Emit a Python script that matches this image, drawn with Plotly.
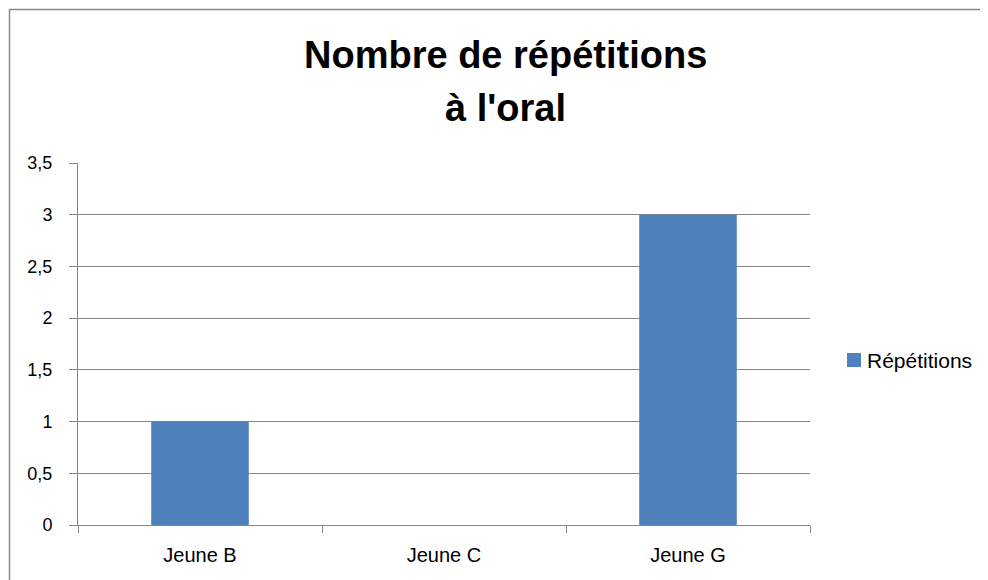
import plotly.graph_objects as go

categories = ["Jeune B", "Jeune C", "Jeune G"]
values = [1, 0, 3]
series_name = "Répétitions"
title_lines = ["Nombre de répétitions", "à l'oral"]
y_ticks = [0, 0.5, 1, 1.5, 2, 2.5, 3, 3.5]
y_tick_text = ["0", "0,5", "1", "1,5", "2", "2,5", "3", "3,5"]

# page body has an 8px default margin; compensate
O = 8
W, H = 988 - O, 580 - O
L, R, T, B = 78 - O, 178, 163 - O, 55
pw, ph = W - L - R, H - T - B

def px_x(p):
    return (p - O - L) / pw

def px_y(p):
    return (H - B - (p - O)) / ph

grey = "#868686"
blue = "#4F81BD"
font = "Liberation Sans"

fig = go.Figure()
fig.add_trace(go.Bar(x=categories, y=values, name=series_name,
                     marker=dict(color=blue, line=dict(width=0))))

fig.update_layout(
    width=W, height=H,
    margin=dict(l=L, r=R, t=T, b=B),
    paper_bgcolor="white", plot_bgcolor="white",
    bargap=0.6,
    showlegend=False,
    font=dict(family=font, color="black"),
    xaxis=dict(showline=True, linecolor=grey, linewidth=1,
               ticks="outside", tickson="boundaries", ticklen=7, tickcolor=grey,
               tickfont=dict(family=font, size=20, color="black"),
               showgrid=False, zeroline=False, ticklabelstandoff=12),
    yaxis=dict(range=[0, 3.5], tickvals=y_ticks, ticktext=y_tick_text,
               showline=True, linecolor=grey, linewidth=1,
               ticks="outside", ticklen=8, tickcolor=grey,
               tickfont=dict(family=font, size=18, color="black"),
               showgrid=True, gridcolor=grey, gridwidth=1,
               zeroline=False, ticklabelstandoff=13),
    shapes=[
        dict(type="rect", xref="paper", yref="paper",
             x0=px_x(9.5), x1=px_x(1000), y0=px_y(600), y1=px_y(9.5),
             line=dict(color="#8A8A8A", width=1.5), layer="below"),
        dict(type="rect", xref="paper", yref="paper",
             x0=px_x(847), x1=px_x(861), y0=px_y(367), y1=px_y(353),
             fillcolor=blue, line=dict(width=0)),
    ],
    annotations=[
        dict(text="<b>" + title_lines[0] + "</b>", xref="paper", yref="paper",
             x=px_x(505), y=px_y(55), xanchor="center", yanchor="middle",
             showarrow=False, font=dict(family=font, size=38, color="black")),
        dict(text="<b>" + title_lines[1] + "</b>", xref="paper", yref="paper",
             x=px_x(505), y=px_y(108), xanchor="center", yanchor="middle",
             showarrow=False, font=dict(family=font, size=38, color="black")),
        dict(text=series_name, xref="paper", yref="paper",
             x=px_x(865), y=px_y(360), xanchor="left", yanchor="middle",
             showarrow=False, font=dict(family=font, size=21, color="black")),
    ],
)

fig.write_html("out.html")
